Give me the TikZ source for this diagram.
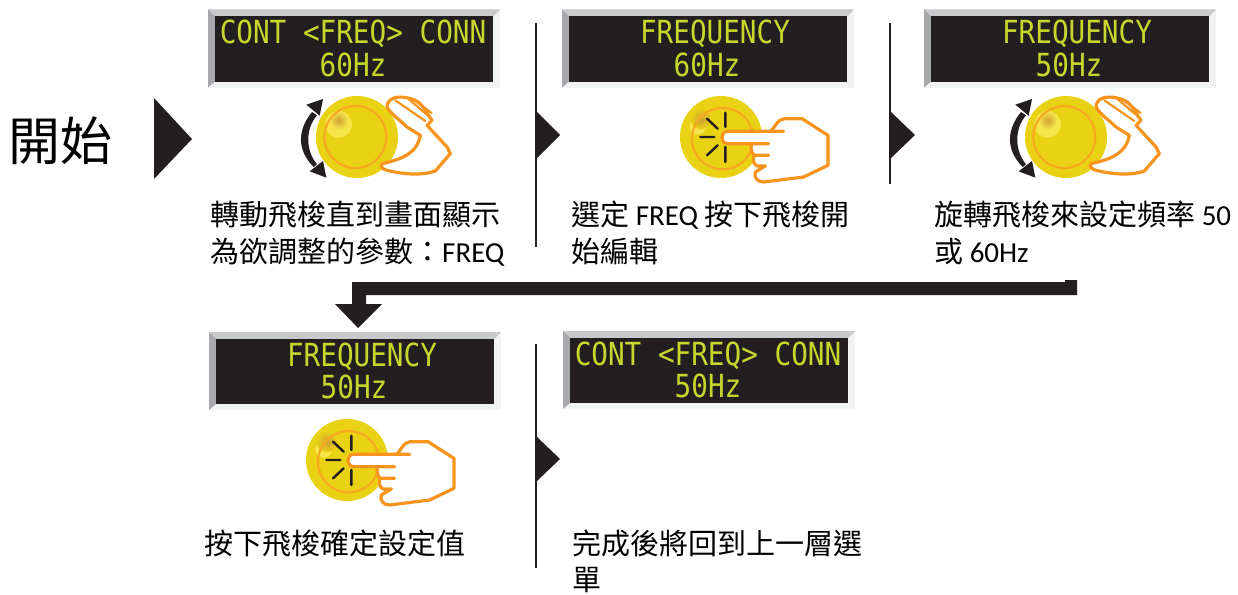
\documentclass[tikz,border=0pt]{standalone}
\usepackage{fontspec}
\usetikzlibrary{calc}
\setmainfont{Carlito}
\newfontfamily\cjk{Noto Sans CJK TC}
\newfontfamily\lcdfont[FakeStretch=0.87]{DejaVu Sans Mono}
\definecolor{lcdbg}{HTML}{231F20}
\definecolor{lcdtxt}{HTML}{C9D62B}
\definecolor{bevtop}{HTML}{C8C9CB}
\definecolor{bevleft}{HTML}{A7A9AC}
\definecolor{bevlow}{HTML}{F1F2F2}
\definecolor{knobyel}{HTML}{E9D213}
\definecolor{knobpale}{HTML}{F6E64A}
\definecolor{knobspot}{HTML}{CFA035}
\definecolor{handorg}{HTML}{F7941E}
\definecolor{ringorg}{HTML}{F7A823}
\tikzset{
  lcdline/.style={text=lcdtxt,inner sep=0pt,font=\lcdfont\fontsize{31.8}{32}\selectfont},
  caption/.style={anchor=north west,inner sep=0pt,align=left,text=black,font=\fontsize{29}{38}\selectfont},
  divider/.style={draw=lcdbg,line width=1.2pt},
  chevron/.style={fill=lcdbg},
  handline/.style={draw=handorg,line width=3.2pt,line join=round,line cap=round},
  fingerline/.style={draw=handorg,line width=2.2pt,line cap=round},
  ringline/.style={draw=ringorg,line width=2.2pt},
  sparkline/.style={draw=lcdbg,line width=2.4pt,line cap=round},
  zoomunits/.style={x=0.3333pt,y=-0.3333pt}
}
% panel: name, left, top, line 1, line 2, x offset of line 1
\newcommand{\lcdpanel}[6]{%
  \fill[bevlow] (#2,#3) rectangle ++(292,78);
  \fill[bevtop] (#2,#3) -- ++(292,0) -- ++(-7,7) -- ++(-278,0) -- cycle;
  \fill[bevleft] (#2,#3) -- ++(7,7) -- ++(0,65) -- ++(-7,6) -- cycle;
  \fill[lcdbg] ($(#2,#3)+(7,7)$) rectangle ++(278,65);
  \node[lcdline] (#1a) at ($(#2,#3)+(145+#6,24.5)$) {#4};
  \node[lcdline] (#1b) at ($(#2,#3)+(145,55)$) {#5};
}
\newcommand{\knobturn}[2]{%
  \begin{scope}[shift={(#1,#2)},zoomunits]
    \fill[knobyel] (0,0) circle (123);
    \fill[knobpale] (-55,-38) circle (40);
    \shade[inner color=knobspot,outer color=knobpale] (-55,-50) circle (28);
    \draw[ringline] (-5,0) circle (93);
    \path[fill=white] (75,80) .. controls (120,70) and (180,55) .. (190,-5)
      -- (150,-30) .. controls (130,-50) and (100,-70) .. (90,-90)
      .. controls (90,-115) and (120,-130) .. (170,-112)
      .. controls (195,-105) and (210,-70) .. (225,-50)
      -- (210,-35) -- (270,30) -- (280,50) -- (235,102)
      .. controls (190,118) and (130,110) .. (90,100)
      .. controls (75,95) and (70,90) .. (75,80) -- cycle;
    \draw[handline] (75,80) .. controls (120,70) and (180,55) .. (190,-5)
      -- (150,-30) .. controls (130,-50) and (100,-70) .. (90,-90)
      .. controls (90,-115) and (120,-130) .. (170,-112)
      .. controls (195,-105) and (210,-70) .. (225,-50)
      -- (210,-35) -- (270,30) -- (280,50) -- (235,102)
      .. controls (190,118) and (130,110) .. (90,100)
      .. controls (75,95) and (70,90) .. (75,80) -- cycle;
    \draw[fingerline] (115,-110) -- (205,-48) (150,-118) -- (218,-60) (170,-112) -- (224,-72);
    \fill[lcdbg] (-135,-75) .. controls (-180,-20) and (-180,40) .. (-130,90)
      -- (-120,82) .. controls (-155,40) and (-155,-25) .. (-120,-65) -- cycle;
    \fill[lcdbg] (-102,-114) -- (-152,-97) -- (-112,-64) -- cycle;
    \fill[lcdbg] (-92,122) -- (-142,103) -- (-102,72) -- cycle;
  \end{scope}
}
\newcommand{\knobpress}[2]{%
  \begin{scope}[shift={(#1,#2)},zoomunits]
    \fill[knobyel] (0,0) circle (123);
    \fill[knobpale] (-70,-32) circle (25);
    \shade[inner color=knobspot,outer color=knobyel] (-60,-55) circle (32);
    \draw[ringline] (5,5) circle (92);
    \draw[sparkline] (13,-30) -- (13,-73) (-10,-25) -- (-42,-55) (-20,0) -- (-62,0) (-10,25) -- (-42,55) (13,30) -- (13,75);
    \fill[white] (20,-17) -- (148,-17) .. controls (160,-25) and (170,-55) .. (190,-55)
      -- (243,-55) -- (321,-5) -- (321,85) -- (248,120) -- (128,135)
      .. controls (108,135) and (100,120) .. (103,105) -- (105,87) -- (95,55) -- (90,20) -- (20,20)
      .. controls (-3,20) and (-3,-17) .. (20,-17) -- cycle;
    \draw[handline] (148,-17) .. controls (160,-25) and (170,-55) .. (190,-55)
      -- (243,-55) -- (321,-5) -- (321,85) -- (248,120) -- (128,135)
      .. controls (108,135) and (98,120) .. (103,105) -- (133,87) -- (108,87)
      .. controls (95,80) and (95,65) .. (100,55) -- (143,55) (100,55)
      .. controls (90,45) and (88,35) .. (92,20);
    \draw[handline] (143,20) -- (20,20) .. controls (-3,20) and (-3,-17) .. (20,-17) -- (188,-17);
  \end{scope}
}
\begin{document}
\begin{tikzpicture}[x=1pt,y=-1pt]
\useasboundingbox (0,0) rectangle (1238,594);
\fill[white] (0,0) rectangle (1238,594);
% start
\node[inner sep=0pt,anchor=center,font=\cjk\fontsize{52}{52}\selectfont] (start) at (61,141) {開始};
\fill[chevron] (154,98) -- (192,139) -- (154,179) -- cycle;
% dividers
\draw[divider] (536,23) -- (536,247);
\draw[divider] (890,23) -- (890,184);
\draw[divider] (536,344) -- (536,568);
\fill[chevron] (537,112) -- (560,135) -- (537,158) -- cycle;
\fill[chevron] (891,112) -- (915,135) -- (891,158) -- cycle;
\fill[chevron] (537,437) -- (560,459) -- (537,481) -- cycle;
% panels
\lcdpanel{pa}{208}{9.5}{CONT <FREQ> CONN}{60Hz}{0}
\lcdpanel{pb}{562}{9.5}{FREQUENCY}{60Hz}{8}
\lcdpanel{pc}{924}{9.5}{FREQUENCY}{50Hz}{8}
\lcdpanel{pd}{209}{332}{FREQUENCY}{50Hz}{8}
\lcdpanel{pe}{563}{331}{CONT <FREQ> CONN}{50Hz}{0}
% knobs
\knobturn{357}{137}
\knobpress{721}{137}
\knobturn{1066}{137}
\knobpress{347}{460}
% big arrow
\fill[lcdbg] (1077,280) -- (1077,295) -- (366,295) -- (366,304) -- (382,304) -- (358,328) -- (335,304) -- (352,304) -- (352,282) -- (1065,282) -- (1065,280) -- cycle;
% captions
\node[caption] (ca) at (210,201) {{\cjk 轉動飛梭直到畫面顯示}\\[-1pt]{\cjk 為欲調整的參數：}FREQ};
\node[caption] (cb) at (571,201) {{\cjk 選定} FREQ {\cjk 按下飛梭開}\\[-1pt]{\cjk 始編輯}};
\node[caption] (cc) at (934,201) {{\cjk 旋轉飛梭來設定頻率} 50\\[-1pt]{\cjk 或} 60Hz};
\node[caption] (cd) at (204,530) {{\cjk 按下飛梭確定設定值}};
\node[caption] (ce) at (572,530) {{\cjk 完成後將回到上一層選}\\[-2pt]{\cjk 單}};
\end{tikzpicture}
\end{document}
